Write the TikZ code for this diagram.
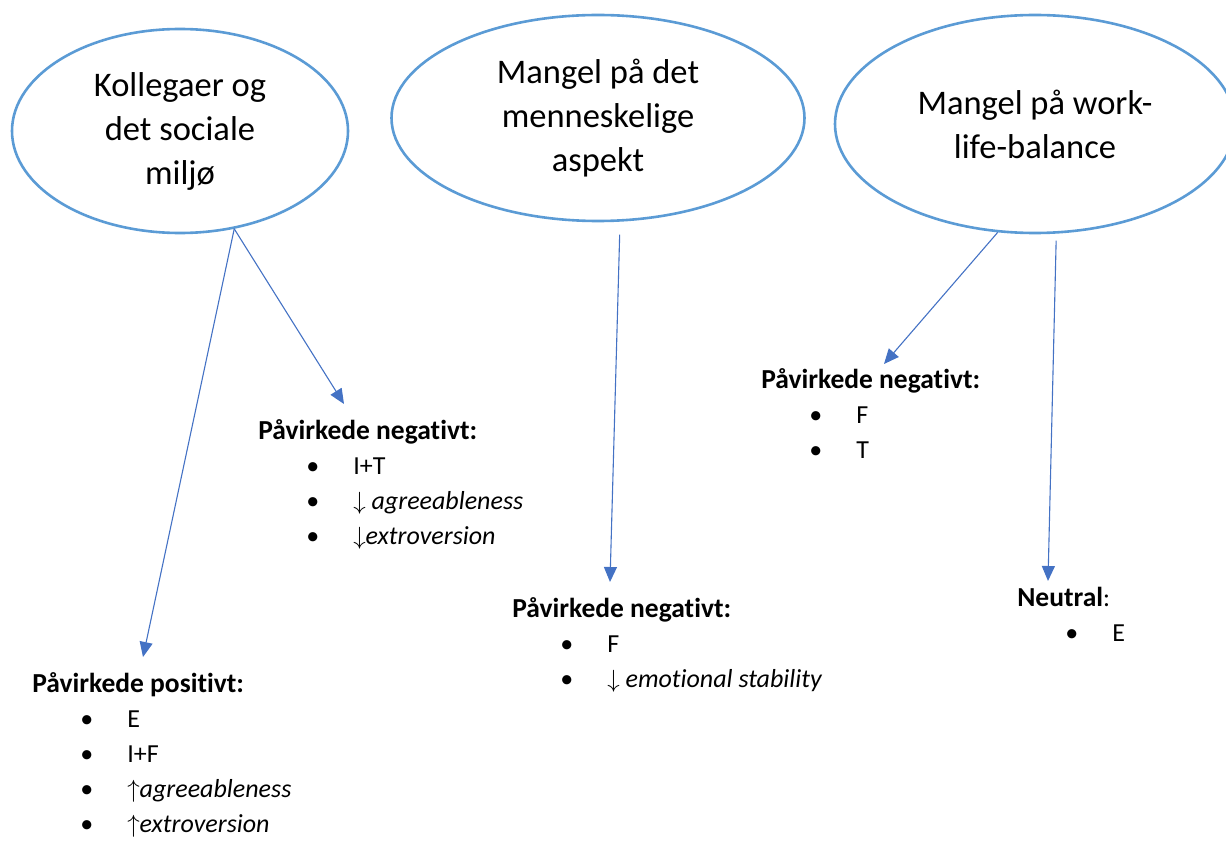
\documentclass[tikz,border=0pt]{standalone}
\usepackage{fontspec}
\setmainfont{Carlito}[Ligatures=NoCommon]
\usetikzlibrary{arrows.meta, shapes.geometric}
\definecolor{ovalblue}{HTML}{5B9BD5}
\definecolor{arrowblue}{HTML}{4472C4}
\newcommand{\punkt}[1]{\\\hspace*{48pt}\makebox[47pt][l]{\textbullet}#1}
\newcommand{\overskrift}[1]{{\fontsize{27.5}{35}\selectfont\bfseries #1}}

\begin{document}
\begin{tikzpicture}[x=1pt,y=-1pt,>={Triangle[length=15pt,width=13pt]},semithick]
  \tikzstyle{oval}=[ellipse,draw=ovalblue,line width=2.6pt,inner sep=0pt,
                    align=center,font=\fontsize{34.5}{44}\selectfont]
  \tikzstyle{liste}=[anchor=north west,inner sep=0pt,align=left,
                     font=\fontsize{26}{35}\selectfont]
  \tikzstyle{pil}=[->,draw=arrowblue,line width=1.1pt]

  \useasboundingbox (0,0) rectangle (1226,842);

  % emner
  \node[oval,minimum width=336pt,minimum height=204pt] (kolleger) at (180,131) {Kollegaer og\\det sociale\\miljø};
  \node[oval,minimum width=413pt,minimum height=206pt] (menneske) at (598,118) {Mangel på det\\menneskelige\\aspekt};
  \node[oval,minimum width=400pt,minimum height=218pt] (balance)  at (1035,124) {Mangel på work-\\life-balance};

  % virkninger
  \node[liste] (positiv)  at (32,672)  {\overskrift{Påvirkede positivt:}\punkt{E}\punkt{I+F}\punkt{$\uparrow$\textit{agreeableness}}\punkt{$\uparrow$\textit{extroversion}}};
  \node[liste] (negativA) at (258,419) {\overskrift{Påvirkede negativt:}\punkt{I+T}\punkt{$\downarrow$ \textit{agreeableness}}\punkt{$\downarrow$\textit{extroversion}}};
  \node[liste] (negativB) at (512,597) {\overskrift{Påvirkede negativt:}\punkt{F}\punkt{$\downarrow$ \textit{emotional stability}}};
  \node[liste] (negativC) at (761,368) {\overskrift{Påvirkede negativt:}\punkt{F}\punkt{T}};
  \node[liste] (neutral)  at (1017,587) {\overskrift{Neutral}:\punkt{E}};

  \coordinate (tip1) at (143,657);
  \coordinate (tip2) at (344,404);
  \coordinate (tip3) at (610,582);
  \coordinate (tip4) at (884,364);
  \coordinate (tip5) at (1048,581);

  \path (kolleger.-61) edge[pil] (tip1)
                       edge[pil] (tip2)
        (menneske.-78) edge[pil,shorten <=13pt] (tip3)
        (balance.-109) edge[pil] (tip4)
        (balance.-79)  edge[pil,shorten <=7pt] (tip5);
\end{tikzpicture}
\end{document}
